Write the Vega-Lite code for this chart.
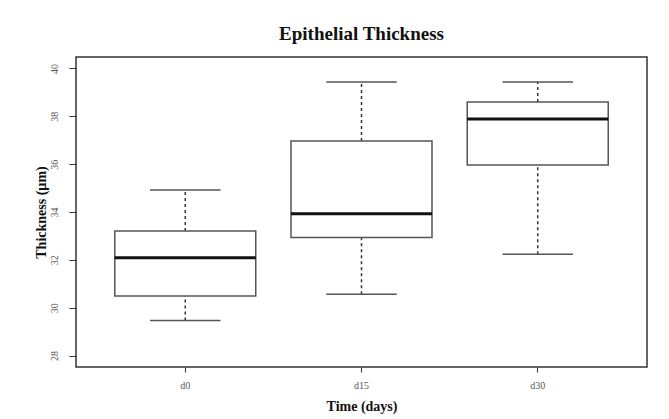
{
  "$schema": "https://vega.github.io/schema/vega-lite/v6.json",
  "autosize": {"type": "none"},
  "width": 571,
  "height": 310,
  "padding": {"left": 76, "top": 57, "right": 22, "bottom": 52},
  "background": "white",
  "title": {
    "text": "Epithelial Thickness",
    "font": "Liberation Serif",
    "fontSize": 19,
    "fontWeight": "bold",
    "color": "#111",
    "anchor": "middle",
    "frame": "group",
    "baseline": "alphabetic",
    "offset": -2
  },
  "data": {
    "values": [
      {"group": "d0", "lower": 29.46, "q1": 30.49, "median": 32.09, "q3": 33.21, "upper": 34.92},
      {"group": "d15", "lower": 30.56, "q1": 32.93, "median": 33.93, "q3": 36.97, "upper": 39.43},
      {"group": "d30", "lower": 32.23, "q1": 35.96, "median": 37.89, "q3": 38.6, "upper": 39.43}
    ]
  },
  "encoding": {
    "x": {
      "field": "group",
      "type": "nominal",
      "sort": null,
      "scale": {"paddingInner": 0, "paddingOuter": 0.12},
      "axis": {
        "title": "Time (days)",
        "labelAngle": 0,
        "labelFont": "Liberation Serif",
        "labelFontSize": 10,
        "labelColor": "#555",
        "labelPadding": 8,
        "tickColor": "#333",
        "tickSize": 5,
        "domain": false,
        "titleFont": "Liberation Serif",
        "titleFontSize": 14,
        "titleFontWeight": "bold",
        "titleColor": "#111",
        "titlePadding": 9
      }
    }
  },
  "layer": [
    {
      "mark": {"type": "rule", "color": "#333", "strokeWidth": 1.5, "strokeDash": [3, 3]},
      "encoding": {
        "y": {
          "field": "lower",
          "type": "quantitative",
          "scale": {"domain": [27.52, 40.48], "nice": false, "zero": false},
          "axis": {
            "title": "Thickness (µm)",
            "values": [28, 30, 32, 34, 36, 38, 40],
            "labelAngle": -90,
            "labelFont": "Liberation Serif",
            "labelFontSize": 10,
            "labelColor": "#555",
            "labelPadding": 10,
            "tickColor": "#333",
            "tickSize": 7,
            "domain": false,
            "grid": false,
            "titleFont": "Liberation Serif",
            "titleFontSize": 14,
            "titleFontWeight": "bold",
            "titleColor": "#111",
            "titlePadding": 1
          }
        },
        "y2": {"field": "q1"}
      }
    },
    {
      "mark": {"type": "rule", "color": "#333", "strokeWidth": 1.5, "strokeDash": [3, 3]},
      "encoding": {
        "y": {"field": "q3", "type": "quantitative"},
        "y2": {"field": "upper"}
      }
    },
    {
      "mark": {"type": "tick", "orient": "horizontal", "color": "#555", "opacity": 1, "size": 70.5, "thickness": 1.5},
      "encoding": {"y": {"field": "lower", "type": "quantitative"}}
    },
    {
      "mark": {"type": "tick", "orient": "horizontal", "color": "#555", "opacity": 1, "size": 70.5, "thickness": 1.5},
      "encoding": {"y": {"field": "upper", "type": "quantitative"}}
    },
    {
      "mark": {"type": "bar", "width": {"band": 0.8}, "fill": "white", "stroke": "#555", "strokeWidth": 1.5},
      "encoding": {
        "y": {"field": "q1", "type": "quantitative"},
        "y2": {"field": "q3"}
      }
    },
    {
      "mark": {"type": "tick", "orient": "horizontal", "color": "#111", "opacity": 1, "size": 141, "thickness": 3},
      "encoding": {"y": {"field": "median", "type": "quantitative"}}
    }
  ],
  "config": {
    "view": {"stroke": "#333", "strokeWidth": 1.5},
    "axis": {"grid": false}
  }
}
